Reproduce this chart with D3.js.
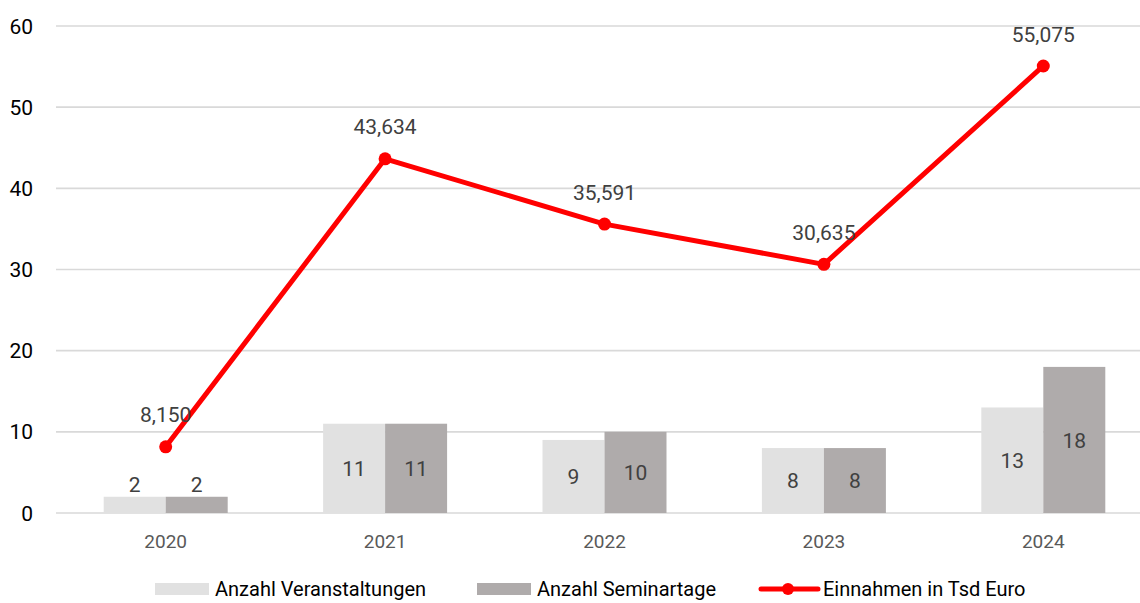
<!DOCTYPE html>
<html><head><meta charset="utf-8">
<script src="https://cdn.jsdelivr.net/npm/d3@7"></script>
<style>
html,body{margin:0;padding:0;background:#fff;}
svg{display:block;font-family:"Liberation Sans Narrow","Roboto","Liberation Sans",sans-serif;}
</style></head>
<body>
<svg id="chart" width="1140" height="603"></svg>
<script>
const categories = ["2020","2021","2022","2023","2024"];
const veranstaltungen = [2, 11, 9, 8, 13];
const seminartage = [2, 11, 10, 8, 18];
const einnahmen = [8.150, 43.634, 35.591, 30.635, 55.075];
const einnahmenLabels = ["8,150","43,634","35,591","30,635","55,075"];
const yTicks = [0, 10, 20, 30, 40, 50, 60];
const seriesNames = ["Anzahl Veranstaltungen", "Anzahl Seminartage", "Einnahmen in Tsd Euro"];

(function(){
const svg = d3.select("#chart");
const W = 1140;
const pLeft = 56, pRight = 1153, pTop = 26, pBottom = 513;

const x = d3.scaleBand().domain(categories).range([pLeft, pRight]);
const y = d3.scaleLinear().domain([0, 60]).range([pBottom, pTop]);
const barW = 62;

svg.append("g").selectAll("line").data(yTicks).join("line")
  .attr("x1", pLeft).attr("x2", W)
  .attr("y1", d => y(d)).attr("y2", d => y(d))
  .attr("stroke", "#d9d9d9").attr("stroke-width", 1.6);

svg.append("g").selectAll("text").data(yTicks).join("text")
  .attr("x", 33).attr("y", d => y(d)).attr("dy", "0.36em")
  .attr("text-anchor", "end").attr("font-size", 21).attr("fill", "#000")
  .text(d => d);

svg.append("g").selectAll("text").data(categories).join("text")
  .attr("x", d => x(d) + x.bandwidth()/2).attr("y", 548)
  .attr("text-anchor", "middle").attr("font-size", 19).attr("fill", "#595959")
  .text(d => d);

const series = [
  {vals: veranstaltungen, color: "#e1e1e1", off: -barW},
  {vals: seminartage, color: "#afabab", off: 0}
];
series.forEach(s => {
  const g = svg.append("g");
  g.selectAll("rect").data(categories).join("rect")
    .attr("x", d => x(d) + x.bandwidth()/2 + s.off)
    .attr("width", barW)
    .attr("y", (d,i) => y(s.vals[i]))
    .attr("height", (d,i) => pBottom - y(s.vals[i]))
    .attr("fill", s.color);
  g.selectAll("text").data(categories).join("text")
    .attr("x", d => x(d) + x.bandwidth()/2 + s.off + barW/2)
    .attr("y", (d,i) => {
      const h = pBottom - y(s.vals[i]);
      return h < 30 ? y(s.vals[i]) - 12 : (y(s.vals[i]) + pBottom)/2;
    })
    .attr("dy", "0.36em")
    .attr("text-anchor", "middle").attr("font-size", 21).attr("fill", "#404040")
    .text((d,i) => s.vals[i]);
});

const line = d3.line().x((d,i) => x(categories[i]) + x.bandwidth()/2).y(d => y(d));
svg.append("path").datum(einnahmen).attr("d", line)
  .attr("fill", "none").attr("stroke", "#ff0000").attr("stroke-width", 5)
  .attr("stroke-linejoin", "round");
svg.append("g").selectAll("circle").data(einnahmen).join("circle")
  .attr("cx", (d,i) => x(categories[i]) + x.bandwidth()/2)
  .attr("cy", d => y(d)).attr("r", 6.5).attr("fill", "#ff0000");
svg.append("g").selectAll("text").data(einnahmen).join("text")
  .attr("x", (d,i) => x(categories[i]) + x.bandwidth()/2)
  .attr("y", d => y(d) - 32).attr("dy", "0.36em")
  .attr("text-anchor", "middle").attr("font-size", 21).attr("fill", "#404040")
  .text((d,i) => einnahmenLabels[i]);

const lg = svg.append("g");
const ly = 589;
const lfs = 20;
lg.append("rect").attr("x", 155).attr("y", ly - 6).attr("width", 54).attr("height", 12).attr("fill", "#e1e1e1");
lg.append("text").attr("x", 215).attr("y", ly).attr("dy", "0.36em").attr("font-size", lfs).attr("fill", "#000").text(seriesNames[0]);
lg.append("rect").attr("x", 477).attr("y", ly - 6).attr("width", 54).attr("height", 12).attr("fill", "#afabab");
lg.append("text").attr("x", 537).attr("y", ly).attr("dy", "0.36em").attr("font-size", lfs).attr("fill", "#000").text(seriesNames[1]);
lg.append("line").attr("x1", 761).attr("x2", 818).attr("y1", ly).attr("y2", ly)
  .attr("stroke", "#ff0000").attr("stroke-width", 5).attr("stroke-linecap", "round");
lg.append("circle").attr("cx", 788).attr("cy", ly).attr("r", 6).attr("fill", "#ff0000");
lg.append("text").attr("x", 823).attr("y", ly).attr("dy", "0.36em").attr("font-size", lfs).attr("fill", "#000").text(seriesNames[2]);
})();
</script>
</body></html>
